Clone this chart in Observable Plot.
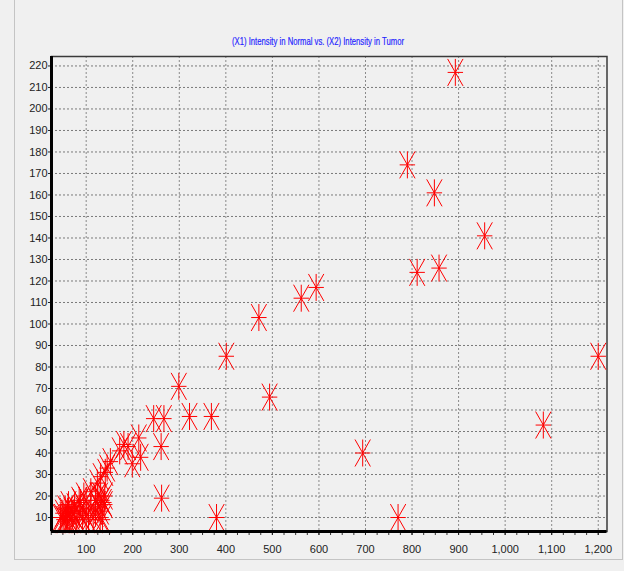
<!DOCTYPE html>
<html><head><meta charset="utf-8">
<script src="https://cdn.jsdelivr.net/npm/d3@7"></script>
<script src="https://cdn.jsdelivr.net/npm/@observablehq/plot@0.6"></script>
<style>
html,body{margin:0;padding:0;background:#f0f0f0;}
#wrap{position:relative;width:624px;height:571px;overflow:hidden;background:#f0f0f0;}
#border{position:absolute;left:14px;top:-2px;width:607px;height:560px;border:1px solid #c4c4c4;}
#chart{position:absolute;left:0;top:0;}
#title{position:absolute;left:0;top:0;}
</style></head><body>
<div id="wrap"><div id="border"></div><div id="chart"></div><svg id="title" width="624" height="56"></svg></div>
<script>
const titleText = "(X1) Intensity in Normal vs. (X2) Intensity in Tumor";
// X1: intensity in normal, X2: intensity in tumor
const normal = [893,790,848,956,811,858,594,562,471,401,1200,299,494,1082,322,369,267,245,261,213,199,694,770,380,262,
  181,172,190,217,152,145,141,131,124,134,125,140,110,100,
  45,48,50,52,55,55,58,60,60,62,65,68,70,72,75,78,80,85,85,88,92,95,95,100,105,110,115,120,120,125,130,130,132,135,138,140];
const tumor = [217,174,161,141,124,126,117,112,103,85,85,71,66,53,57,57,56,56,43,47,35,40,10,10,19,
  44,41,43,38,36,33,31,29,26,18,20,16,22,18,
  10,10,12,9,14,9,10,11,13,16,9,13,10,12,15,10,9,12,18,17,10,13,20,11,9,14,10,12,18,16,10,20,13,9,17,20];
const xTicks = [100,200,300,400,500,600,700,800,900,1000,1100,1200];
const yTicks = [10,20,30,40,50,60,70,80,90,100,110,120,130,140,150,160,170,180,190,200,210,220];
const xMinor = d3.range(25, 1201, 25);
const xDomain = [25.5, 1218.8];
const yDomain = [3.5, 224.4];

const data = normal.map((d, i) => ({normal: d, tumor: tumor[i]}));

const asterisk = {
  draw(ctx) {
    const w = 7.7, h = 13.5;
    ctx.moveTo(0, -h); ctx.lineTo(0, h);
    ctx.moveTo(-w, 0); ctx.lineTo(w, 0);
    ctx.moveTo(-w, -h); ctx.lineTo(w, h);
    ctx.moveTo(w, -h); ctx.lineTo(-w, h);
  }
};

const font = "'Liberation Sans Narrow','Arial Narrow','Liberation Sans',sans-serif";

const chart = Plot.plot({
  width: 624,
  height: 571,
  marginLeft: 51,
  marginTop: 56,
  marginBottom: 40,
  marginRight: 17.5,
  style: {background: "transparent", fontFamily: font, fontSize: "11px", color: "#222"},
  x: {domain: xDomain},
  y: {domain: yDomain},
  marks: [
    Plot.gridX(xTicks, {stroke: "#8a8a8a", strokeOpacity: 1, strokeDasharray: "2,2"}),
    Plot.gridY(yTicks, {stroke: "#7a7a7a", strokeOpacity: 1, strokeDasharray: "2,2"}),
    Plot.axisX({ticks: xMinor, tickFormat: () => "", tickSize: 4, stroke: "#333", label: null}),
    Plot.axisX({ticks: xTicks, tickFormat: d3.format(","), tickSize: 4, tickPadding: 10, fill: "#222", label: null}),
    Plot.axisY({ticks: yTicks, tickSize: 3, tickPadding: 1, fill: "#222", label: null}),
    Plot.frame({stroke: "#3a3a3a", strokeWidth: 1.5}),
    Plot.dot(data, {x: "normal", y: "tumor", symbol: asterisk, stroke: "#ff0000", fill: "none", strokeWidth: 1}),
    Plot.ruleX([xDomain[0]], {stroke: "#000", strokeWidth: 3}),
    Plot.ruleY([yDomain[0]], {stroke: "#000", strokeWidth: 3})
  ]
});
document.getElementById("chart").appendChild(chart);

d3.select("#title").append("text")
  .attr("x", 318).attr("y", 44.5)
  .attr("text-anchor", "middle")
  .attr("font-family", font)
  .attr("font-size", 11)
  .attr("fill", "#2626ff")
  .attr("stroke", "#2626ff")
  .attr("stroke-width", 0.2)
  .attr("textLength", 172)
  .attr("lengthAdjust", "spacingAndGlyphs")
  .text(titleText);
</script>
</body></html>
